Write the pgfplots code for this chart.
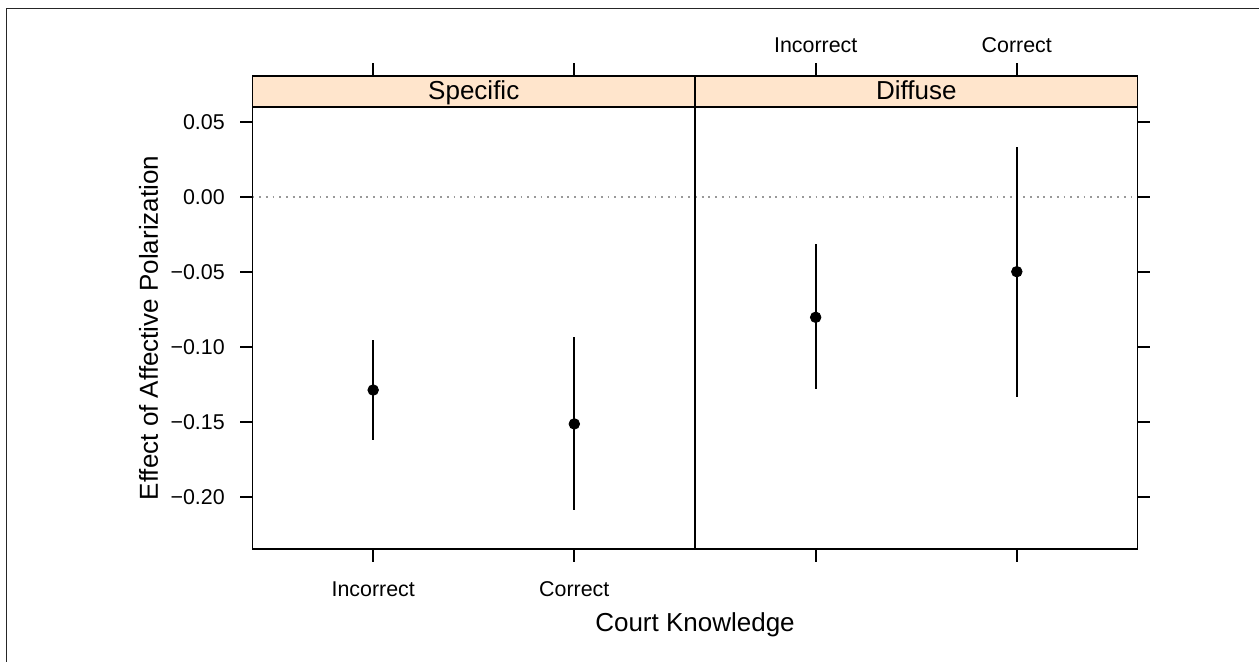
\documentclass[border=0pt]{standalone}
\usepackage{pgfplots}
\pgfplotsset{compat=1.18}
\usepackage{fontspec}
\setmainfont{Liberation Sans}
\definecolor{stripbg}{HTML}{FFE5CC}
\pgfplotsset{
 panel/.style={
  at={(#1,56.35pt)}, anchor=south west,
  width=221.25pt, height=236.8pt, scale only axis,
  xmin=0.4, xmax=2.6, ymin=-0.2351, ymax=0.0807,
  xtick={1,2}, xticklabels={Incorrect,Correct},
  ytick={-0.2,-0.15,-0.1,-0.05,0,0.05},
  tick align=outside, major tick length=6.2pt,
  every tick/.style={black, line width=0.9pt},
  axis line style={line width=0.9pt},
  axis on top, clip=false,
  ticklabel style={font=\fontsize{10.7}{12}\selectfont},
 },
}
\begin{document}
\begin{tikzpicture}
\useasboundingbox (0,0) rectangle (629.5pt,331pt);
\draw[black!85, line width=0.6pt] (3.25pt,0) -- (3.25pt,326.75pt) -- (629.5pt,326.75pt);
% left panel
\begin{axis}[panel=126.25pt,
  xtick pos=both, xticklabel pos=lower,
  xticklabel style={anchor=base, yshift=-17.35pt},
  ytick pos=left,
  yticklabels={−0.20,−0.15,−0.10,−0.05,0.00,0.05},
  yticklabel style={anchor=east, inner sep=0pt, xshift=-7.5pt},
]
\fill[stripbg] (axis cs:0.4,0.0600) rectangle (axis cs:2.6,0.0807);
\draw[line width=0.9pt] (axis cs:0.4,0.0600) -- (axis cs:2.6,0.0600);
\node[anchor=base, font=\fontsize{13}{15}\selectfont] at (axis cs:1.5,0.0645) {Specific};
\addplot[black!40, line width=0.9pt, dash pattern=on 0.9pt off 2.45pt] coordinates {(0.4,0) (2.6,0)};
\addplot[black, only marks, mark=*, mark size=2.65pt,
  error bars/.cd, y dir=both, y explicit, error mark=none,
  error bar style={line width=0.9pt, black}]
  coordinates {
   (1,-0.1289) += (0,0.0334) -= (0,0.0333)
   (2,-0.1515) += (0,0.0577) -= (0,0.0574)
  };
\end{axis}
% right panel
\begin{axis}[panel=347.5pt,
  xtick pos=both, xticklabel pos=upper,
  xticklabel style={anchor=base, yshift=5.5pt},
  ytick pos=right, yticklabels={},
]
\fill[stripbg] (axis cs:0.4,0.0600) rectangle (axis cs:2.6,0.0807);
\draw[line width=0.9pt] (axis cs:0.4,0.0600) -- (axis cs:2.6,0.0600);
\node[anchor=base, font=\fontsize{13}{15}\selectfont] at (axis cs:1.5,0.0645) {Diffuse};
\addplot[black!40, line width=0.9pt, dash pattern=on 0.9pt off 2.45pt] coordinates {(0.4,0) (2.6,0)};
\addplot[black, only marks, mark=*, mark size=2.65pt,
  error bars/.cd, y dir=both, y explicit, error mark=none,
  error bar style={line width=0.9pt, black}]
  coordinates {
   (1,-0.0804) += (0,0.0488) -= (0,0.0480)
   (2,-0.0500) += (0,0.0833) -= (0,0.0833)
  };
\end{axis}
\node[rotate=90, anchor=base, font=\fontsize{13}{15}\selectfont] at (79pt,167pt) {Effect of Affective Polarization};
\node[anchor=base, font=\fontsize{13}{15}\selectfont] at (347.5pt,15pt) {Court Knowledge};
\end{tikzpicture}
\end{document}
